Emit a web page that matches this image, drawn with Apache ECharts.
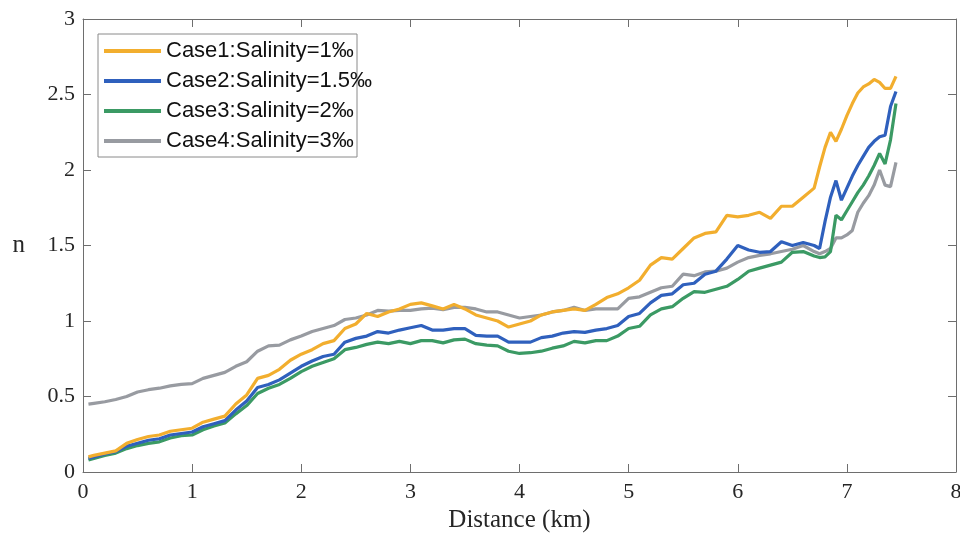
<!DOCTYPE html>
<html>
<head>
<meta charset="utf-8">
<script src="https://cdn.jsdelivr.net/npm/echarts@6/dist/echarts.min.js"></script>
<style>
html, body { margin: 0; padding: 0; background: #fff; }
#main { width: 960px; height: 540px; }
</style>
</head>
<body>
<div id="main"></div>
<script>
// distance (km)
var distance = [0.05, 0.1, 0.2, 0.3, 0.4, 0.5, 0.6, 0.7, 0.8, 0.9,
	1.0, 1.1, 1.2, 1.3, 1.4, 1.5, 1.6, 1.7, 1.8, 1.9,
	2.0, 2.1, 2.2, 2.3, 2.4, 2.5, 2.6, 2.7, 2.8, 2.9,
	3.0, 3.1, 3.2, 3.3, 3.4, 3.5, 3.6, 3.7, 3.8, 3.9,
	4.0, 4.1, 4.2, 4.3, 4.4, 4.5, 4.6, 4.7, 4.8, 4.9,
	5.0, 5.1, 5.2, 5.3, 5.4, 5.5, 5.6, 5.7, 5.8, 5.9,
	6.0, 6.1, 6.2, 6.3, 6.4, 6.5, 6.6, 6.7, 6.75, 6.8,
	6.85, 6.9, 6.95, 7.0, 7.05, 7.1, 7.15, 7.2, 7.25, 7.3,
	7.35, 7.4, 7.45];

// Case1: salinity 1
var case1 = [0.10, 0.11, 0.125, 0.14, 0.19, 0.215, 0.235, 0.245, 0.27, 0.28,
	0.29, 0.33, 0.35, 0.37, 0.45, 0.51, 0.62, 0.64, 0.68, 0.74,
	0.78, 0.81, 0.85, 0.87, 0.95, 0.98, 1.05, 1.03, 1.06, 1.08,
	1.11, 1.12, 1.10, 1.08, 1.11, 1.08, 1.04, 1.02, 1.00, 0.96,
	0.98, 1.00, 1.04, 1.06, 1.07, 1.08, 1.07, 1.11, 1.155, 1.18,
	1.22, 1.27, 1.37, 1.42, 1.41, 1.48, 1.55, 1.58, 1.59, 1.70,
	1.69, 1.70, 1.72, 1.68, 1.76, 1.76, 1.82, 1.88, 2.02, 2.15,
	2.25, 2.19, 2.27, 2.36, 2.44, 2.51, 2.55, 2.57, 2.60, 2.58,
	2.54, 2.54, 2.62];

// Case2: salinity 1.5
var case2 = [0.09, 0.10, 0.12, 0.135, 0.17, 0.19, 0.21, 0.22, 0.245, 0.255,
	0.265, 0.30, 0.32, 0.34, 0.41, 0.47, 0.56, 0.58, 0.61, 0.655,
	0.70, 0.735, 0.765, 0.78, 0.86, 0.885, 0.90, 0.93, 0.92, 0.94,
	0.955, 0.97, 0.94, 0.94, 0.95, 0.95, 0.905, 0.90, 0.90, 0.86,
	0.86, 0.86, 0.89, 0.90, 0.92, 0.93, 0.925, 0.94, 0.95, 0.97,
	1.03, 1.05, 1.12, 1.17, 1.18, 1.24, 1.25, 1.31, 1.33, 1.41,
	1.50, 1.47, 1.455, 1.46, 1.525, 1.50, 1.52, 1.50, 1.48, 1.66,
	1.82, 1.93, 1.80, 1.88, 1.96, 2.03, 2.09, 2.15, 2.19, 2.22,
	2.23, 2.42, 2.52];

// Case3: salinity 2
var case3 = [0.08, 0.09, 0.11, 0.125, 0.155, 0.175, 0.19, 0.20, 0.225, 0.24,
	0.245, 0.28, 0.305, 0.325, 0.385, 0.44, 0.52, 0.555, 0.58, 0.62,
	0.665, 0.70, 0.725, 0.75, 0.81, 0.825, 0.845, 0.86, 0.85, 0.865,
	0.85, 0.87, 0.87, 0.855, 0.875, 0.88, 0.85, 0.84, 0.835, 0.80,
	0.785, 0.79, 0.80, 0.82, 0.835, 0.865, 0.855, 0.87, 0.87, 0.90,
	0.95, 0.965, 1.04, 1.08, 1.095, 1.15, 1.195, 1.19, 1.21, 1.23,
	1.275, 1.33, 1.35, 1.37, 1.39, 1.455, 1.46, 1.43, 1.42, 1.425,
	1.46, 1.70, 1.67, 1.73, 1.79, 1.85, 1.90, 1.96, 2.03, 2.11,
	2.04, 2.20, 2.44];

// Case4: salinity 3
var case4 = [0.45, 0.455, 0.465, 0.48, 0.50, 0.53, 0.545, 0.555, 0.57, 0.58,
	0.585, 0.62, 0.64, 0.66, 0.70, 0.73, 0.80, 0.835, 0.84, 0.875,
	0.90, 0.93, 0.95, 0.97, 1.01, 1.02, 1.04, 1.07, 1.065, 1.07,
	1.07, 1.08, 1.085, 1.075, 1.09, 1.09, 1.08, 1.06, 1.06, 1.04,
	1.02, 1.03, 1.04, 1.06, 1.07, 1.09, 1.07, 1.08, 1.08, 1.08,
	1.15, 1.16, 1.19, 1.22, 1.23, 1.31, 1.30, 1.325, 1.33, 1.35,
	1.39, 1.42, 1.435, 1.445, 1.46, 1.475, 1.50, 1.46, 1.445, 1.46,
	1.48, 1.55, 1.55, 1.57, 1.60, 1.72, 1.78, 1.83, 1.90, 2.00,
	1.90, 1.89, 2.05];

var names = ['Case1:Salinity=1‰', 'Case2:Salinity=1.5‰', 'Case3:Salinity=2‰', 'Case4:Salinity=3‰'];
var colors = ['#F2AE2E', '#2F60BD', '#3B9A64', '#989BA1'];
var allCases = [case1, case2, case3, case4];

function pairs(ys) {
	var out = [];
	for (var i = 0; i < distance.length; i++) {
		out.push([distance[i], ys[i]]);
	}
	return out;
}

var serif = 'Liberation Serif';
var axisGray = '#6e6e6e';

var series = [];
allCases.forEach(function (ys, k) {
	series.push({
		name: names[k],
		type: 'line',
		xAxisIndex: 0,
		yAxisIndex: 0,
		data: pairs(ys),
		symbol: 'none',
		smooth: false,
		color: colors[k],
		lineStyle: { width: 3.2, color: colors[k] },
		z: 2 + (3 - k)
	});
});

var myChart = echarts.init(document.getElementById('main'));

var option = {
	animation: false,
	backgroundColor: '#fff',
	grid: { left: 83, right: 4, top: 19, bottom: 68, show: false, outerBoundsMode: 'none', containLabel: false },
	graphic: [{
		type: 'rect',
		z: 10,
		shape: { x: 98, y: 34, width: 259, height: 123 },
		style: { fill: '#fff', stroke: '#8a8a8a', lineWidth: 1 }
	}],
	legend: {
		orient: 'vertical',
		left: 98,
		top: 34,
		z: 20,
		padding: [5, 4, 4, 6],
		itemGap: 6,
		itemWidth: 57,
		itemHeight: 4,
		icon: 'rect',
		textStyle: { fontFamily: 'Liberation Sans', fontSize: 22, color: '#111', lineHeight: 24 },
		data: names
	},
	xAxis: [{
		type: 'value', min: 0, max: 8, interval: 1, position: 'bottom',
		name: 'Distance (km)', nameLocation: 'middle', nameGap: 36,
		nameTextStyle: { fontFamily: serif, fontSize: 25, color: '#262626' },
		axisLine: { show: true, onZero: false, lineStyle: { color: axisGray, width: 1 } },
		axisTick: { show: true, inside: true, length: 8, lineStyle: { color: axisGray } },
		axisLabel: { fontFamily: serif, fontSize: 22, color: '#262626', margin: 9 },
		splitLine: { show: false }
	}, {
		type: 'value', min: 0, max: 8, interval: 1, position: 'top',
		axisLine: { show: true, onZero: false, lineStyle: { color: axisGray, width: 1 } },
		axisTick: { show: true, inside: true, length: 8, lineStyle: { color: axisGray } },
		axisLabel: { show: false },
		splitLine: { show: false }
	}],
	yAxis: [{
		type: 'value', min: 0, max: 3, interval: 0.5, position: 'left',
		name: 'n', nameLocation: 'middle', nameRotate: 0, nameGap: 58,
		nameTextStyle: { fontFamily: serif, fontSize: 25, color: '#262626' },
		axisLine: { show: true, onZero: false, lineStyle: { color: axisGray, width: 1 } },
		axisTick: { show: true, inside: true, length: 8, lineStyle: { color: axisGray } },
		axisLabel: { fontFamily: serif, fontSize: 22, color: '#262626', margin: 8 },
		splitLine: { show: false }
	}, {
		type: 'value', min: 0, max: 3, interval: 0.5, position: 'right',
		axisLine: { show: true, onZero: false, lineStyle: { color: axisGray, width: 1 } },
		axisTick: { show: true, inside: true, length: 8, lineStyle: { color: axisGray } },
		axisLabel: { show: false },
		splitLine: { show: false }
	}],
	series: series
};

myChart.setOption(option);
</script>
</body>
</html>
